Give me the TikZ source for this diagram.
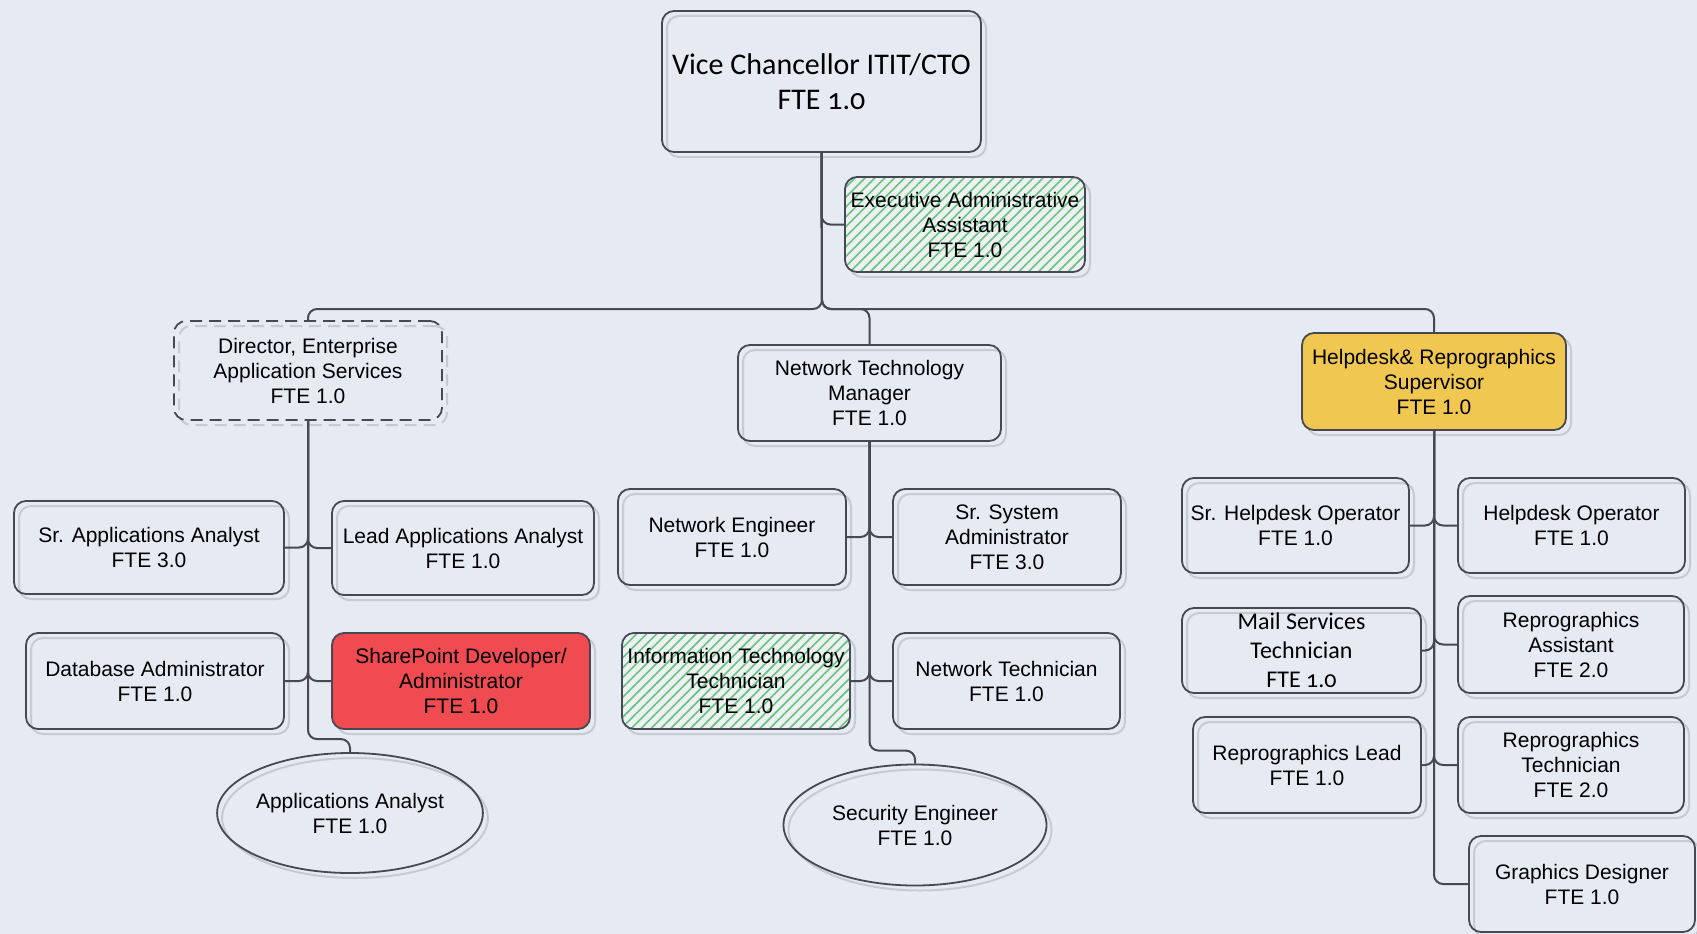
\documentclass[tikz,border=0pt]{standalone}
\usepackage{fontspec}
\setmainfont{Liberation Sans}
\newfontfamily\calfont[Numbers=OldStyle]{Carlito}
\usetikzlibrary{shapes.geometric,shadows,patterns.meta}
\definecolor{bgc}{RGB}{230,234,242}
\definecolor{linec}{RGB}{72,72,82}
\definecolor{ghost}{RGB}{198,202,210}
\definecolor{hatchbg}{RGB}{238,240,242}
\definecolor{hatchc}{RGB}{100,196,128}
\definecolor{supc}{RGB}{240,199,80}
\definecolor{spc}{RGB}{239,75,80}
\begin{document}
\begin{tikzpicture}[x=1pt,y=-1pt,
    sz/.style 2 args={minimum width=#1pt,minimum height=#2pt},
    role/.style={draw=linec,line width=1.8pt,rounded corners=12pt,inner sep=0pt,align=center,
        font=\fontsize{21}{25}\selectfont,
        drop shadow={shadow xshift=5pt,shadow yshift=-5pt,opacity=1,fill=none,draw=ghost,line width=2pt}},
    oval/.style={role,ellipse,rounded corners=0pt},
    hatch/.style={preaction={fill=hatchbg},pattern={Lines[angle=45,distance=7pt,line width=1.6pt]},pattern color=hatchc},
    link/.style={draw=linec,line width=2pt,rounded corners=9pt}]
    \path[use as bounding box,fill=bgc](0,0)rectangle(1697,934);

    \node[role,sz={319}{141},font=\calfont\fontsize{30}{35}\selectfont](vc)at(821.5,81.5){Vice Chancellor ITIT/CTO\\FTE 1.0};
    \node[role,hatch,sz={240}{95}](eaa)at(965,224.5){Executive Administrative\\Assistant\\FTE 1.0};
    \node[role,dash pattern=on 12pt off 7pt,sz={268}{99}](dir)at(308,370.5){Director, Enterprise\\Application Services\\FTE 1.0};
    \node[role,sz={263}{96}](ntm)at(869.5,393){Network Technology\\Manager\\FTE 1.0};
    \node[role,fill=supc,sz={264}{97}](hd)at(1434,381.5){Helpdesk\& Reprographics\\Supervisor\\FTE 1.0};

    \node[role,sz={270}{93}](saa)at(149,547.5){Sr. Applications Analyst\\FTE 3.0};
    \node[role,sz={262}{94}](laa)at(463,548){Lead Applications Analyst\\FTE 1.0};
    \node[role,sz={258}{96}](dba)at(155,681){Database Administrator\\FTE 1.0};
    \node[role,fill=spc,sz={258}{96}](sp)at(461,681){SharePoint Developer/\\Administrator\\FTE 1.0};
    \node[oval,sz={263}{120}](aa)at(350,813){Applications Analyst\\FTE 1.0};

    \node[role,sz={228}{96}](ne)at(732,537){Network Engineer\\FTE 1.0};
    \node[role,sz={228}{96}](ssa)at(1007,537){Sr. System\\Administrator\\FTE 3.0};
    \node[role,hatch,sz={228}{96}](itt)at(736,681){Information Technology\\Technician\\FTE 1.0};
    \node[role,sz={227}{96}](nt)at(1006.5,681){Network Technician\\FTE 1.0};
    \node[oval,sz={263}{121}](se)at(915,825){Security Engineer\\FTE 1.0};

    \node[role,sz={227}{95}](sho)at(1295.5,525.5){Sr. Helpdesk Operator\\FTE 1.0};
    \node[role,sz={227}{95}](ho)at(1571.5,525.5){Helpdesk Operator\\FTE 1.0};
    \node[role,sz={239}{85},font=\calfont\fontsize{24}{29}\selectfont](mst)at(1301.5,650.5){Mail Services\\Technician\\FTE 1.0};
    \node[role,sz={226}{97}](ra)at(1571,644.5){Reprographics\\Assistant\\FTE 2.0};
    \node[role,sz={228}{96}](rl)at(1307,765){Reprographics Lead\\FTE 1.0};
    \node[role,sz={226}{96}](rt)at(1571,765){Reprographics\\Technician\\FTE 2.0};
    \node[role,sz={226}{96}](gd)at(1582,884){Graphics Designer\\FTE 1.0};

    \coordinate(bus)at(822,309);
    \draw[link](vc.south)|-(eaa.west);
    \draw[link](vc.south)--(bus)-|(dir.north);
    \draw[link](vc.south)--(bus)-|(ntm.north);
    \draw[link](vc.south)--(bus)-|(hd.north);

    \draw[link](saa.east)-|(dir.south);
    \draw[link](laa.west)-|(dir.south);
    \draw[link](dba.east)-|(dir.south);
    \draw[link](sp.west)-|(dir.south);
    \draw[link](dir.south)|-([yshift=13pt]aa.north)--(aa.north);

    \draw[link](ne.east)-|(ntm.south);
    \draw[link](ssa.west)-|(ntm.south);
    \draw[link](itt.east)-|(ntm.south);
    \draw[link](nt.west)-|(ntm.south);
    \draw[link](ntm.south)|-([yshift=13pt]se.north)--(se.north);

    \draw[link](sho.east)-|(hd.south);
    \draw[link](ho.west)-|(hd.south);
    \draw[link](mst.east)-|(hd.south);
    \draw[link](ra.west)-|(hd.south);
    \draw[link](rl.east)-|(hd.south);
    \draw[link](rt.west)-|(hd.south);
    \draw[link](hd.south)|-(gd.west);
\end{tikzpicture}
\end{document}
